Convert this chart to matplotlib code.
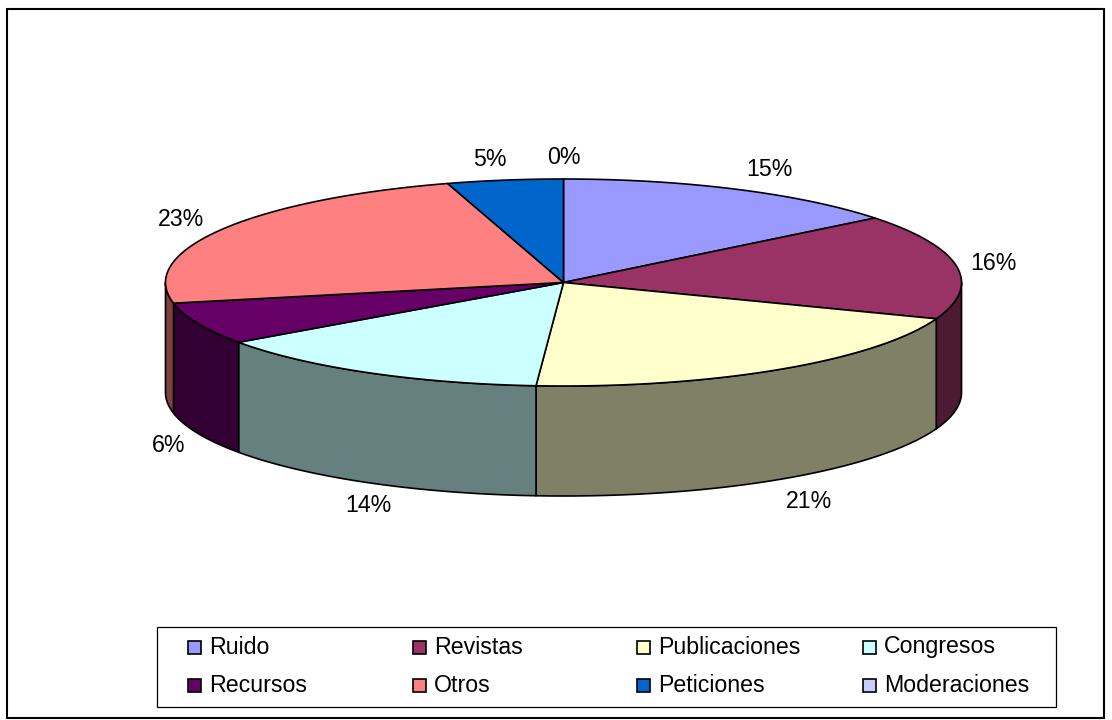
import numpy as np
import matplotlib
matplotlib.use("Agg")
import matplotlib.pyplot as plt
from matplotlib.patches import Polygon, Rectangle

# Data
categories = ["Ruido", "Revistas", "Publicaciones", "Congresos",
              "Recursos", "Otros", "Peticiones", "Moderaciones"]
shares = [14.3, 16.4, 20.4, 14.1, 6.6, 23.5, 4.7, 0.0]
pct_labels = ["15%", "16%", "21%", "14%", "6%", "23%", "5%", "0%"]
top_colors = ["#9999FF", "#993366", "#FFFFCC", "#CCFFFF",
              "#660066", "#FF8080", "#0066CC", "#CCCCFF"]

# Layout (pixels of the figure)
W, H = 1112, 720
CX, CY, RX, RY, DEPTH = 563.5, 282.5, 398.0, 103.5, 110.0
LABEL_POS = [(769, 170), (993, 263), (809, 502), (368, 506),
             (169, 445), (181, 219), (490, 159), (564, 157)]
LEGEND_COLS = [188, 413, 637, 863]
LEGEND_ROWS = [641, 679]
FONT = "Liberation Sans"
FS = 16.7
LW = 1.2

fig = plt.figure(figsize=(W / 100, H / 100), dpi=100, facecolor="white")
ax = fig.add_axes([0, 0, 1, 1])
ax.set_xlim(0, W)
ax.set_ylim(H, 0)
ax.axis("off")


def arc(t0, t1, dy=0.0):
    """Points on the pie rim, angles in degrees clockwise from the top."""
    t = np.radians(np.linspace(t0, t1, max(2, int(abs(t1 - t0) * 2) + 1)))
    return np.column_stack([CX + RX * np.sin(t), CY - RY * np.cos(t) + dy])


def darker(color):
    rgb = np.array(matplotlib.colors.to_rgb(color))
    return tuple(rgb * 0.5)


# Outer frame
ax.add_patch(Rectangle((7, 9), 1097, 709, fill=False, ec="black", lw=1.5))

edges = np.concatenate([[0], np.cumsum(shares)]) / np.sum(shares) * 360.0

# Side walls (only the front half of the rim is visible)
for i, col in enumerate(top_colors):
    a, b = max(edges[i], 90.0), min(edges[i + 1], 270.0)
    if b > a:
        pts = np.vstack([arc(a, b), arc(b, a, DEPTH)])
        ax.add_patch(Polygon(pts, closed=True, fc=darker(col), ec="black",
                             lw=LW, joinstyle="round"))

# Top face
for i, col in enumerate(top_colors):
    if shares[i] > 0:
        pts = np.vstack([[CX, CY], arc(edges[i], edges[i + 1])])
        ax.add_patch(Polygon(pts, closed=True, fc=col, ec="black",
                             lw=LW, joinstyle="round"))

# Percentage labels
for (x, y), s in zip(LABEL_POS, pct_labels):
    ax.text(x, y, s, ha="center", va="center", family=FONT, fontsize=FS,
            color="black")

# Legend
ax.add_patch(Rectangle((158, 628), 899, 80, fc="#808080", ec="none"))
ax.add_patch(Rectangle((157, 627), 899, 80, fc="white", ec="black", lw=0.9))
for i, (name, col) in enumerate(zip(categories, top_colors)):
    x = LEGEND_COLS[i % 4]
    y = LEGEND_ROWS[i // 4]
    ax.add_patch(Rectangle((x, y), 13, 13, fc=col, ec="black", lw=1.2))
    ax.text(x + 21, y + 12.5, name, ha="left", va="baseline", family=FONT,
            fontsize=FS, color="black")

fig.savefig("out.png", dpi=100, facecolor="white")
